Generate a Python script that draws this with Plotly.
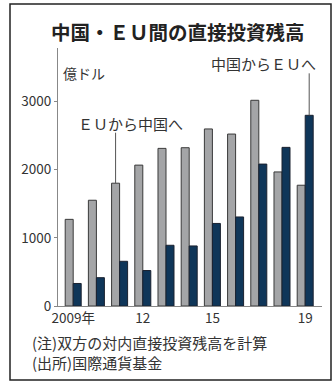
import plotly.graph_objects as go

years = list(range(2009, 2020))
eu_to_china = [1270, 1550, 1800, 2065, 2310, 2320, 2595, 2520, 3015, 1965, 1770]
china_to_eu = [330, 415, 655, 520, 890, 880, 1210, 1305, 2080, 2325, 2795]
tick_years = [2009, 2012, 2015, 2019]
tick_text = ["2009年", "12", "15", "19"]
ytick_vals = [0, 1000, 2000, 3000]

FONT = "Noto Sans CJK JP"
W, H = 336, 382
L, R, T, B = 58, 14, 48, 76
PW, PH = W - L - R, H - T - B
BARGAP = 0.31


def px_x(px):
    return (px - L) / PW


def px_y(py):
    return (H - B - py) / PH


fig = go.Figure()
fig.add_trace(go.Bar(
    x=years, y=eu_to_china, name="ＥＵから中国へ",
    marker=dict(color="#a4a5a7", line=dict(color="#3a3a3a", width=1)),
))
fig.add_trace(go.Bar(
    x=years, y=china_to_eu, name="中国からＥＵへ",
    marker=dict(color="#0f3659", line=dict(color="#1b2230", width=1)),
))

half = (1 - BARGAP) / 4
ymax = PH / 68.23 * 1000

shapes = [
    dict(type="rect", xref="paper", yref="paper",
         x0=px_x(10), x1=px_x(331), y0=px_y(380), y1=px_y(4),
         line=dict(color="#222222", width=1.5), fillcolor="rgba(0,0,0,0)"),
    dict(type="line", xref="x", yref="y",
         x0=2011 - half, x1=2011 - half, y0=eu_to_china[2], y1=2540,
         line=dict(color="#555555", width=1)),
    dict(type="line", xref="x", yref="y",
         x0=2019 + half, x1=2019 + half, y0=china_to_eu[10], y1=3410,
         line=dict(color="#555555", width=1)),
]

annotations = [
    dict(text="<b>中国・ＥＵ間の直接投資残高</b>", xref="paper", yref="paper",
         x=px_x(177.5), y=px_y(31), xanchor="center", yanchor="middle",
         showarrow=False, font=dict(family=FONT, size=19.5, color="#222222")),
    dict(text="億ドル", xref="paper", yref="paper",
         x=px_x(61), y=px_y(73), xanchor="left", yanchor="middle",
         showarrow=False, font=dict(family=FONT, size=14, color="#333333")),
    dict(text="ＥＵから中国へ", xref="paper", yref="paper",
         x=px_x(76), y=px_y(124), xanchor="left", yanchor="middle",
         showarrow=False, font=dict(family=FONT, size=15, color="#333333")),
    dict(text="中国からＥＵへ", xref="paper", yref="paper",
         x=px_x(318), y=px_y(63), xanchor="right", yanchor="middle",
         showarrow=False, font=dict(family=FONT, size=15, color="#333333")),
    dict(text="(注)双方の対内直接投資残高を計算", xref="paper", yref="paper",
         x=px_x(30), y=px_y(342.5), xanchor="left", yanchor="middle",
         showarrow=False, font=dict(family=FONT, size=15, color="#333333")),
    dict(text="(出所)国際通貨基金", xref="paper", yref="paper",
         x=px_x(30), y=px_y(362), xanchor="left", yanchor="middle",
         showarrow=False, font=dict(family=FONT, size=15, color="#333333")),
]

fig.update_layout(
    width=W, height=H,
    margin=dict(l=L, r=R, t=T, b=B, pad=0),
    paper_bgcolor="white", plot_bgcolor="white",
    barmode="group", bargap=BARGAP, bargroupgap=0,
    showlegend=False,
    shapes=shapes, annotations=annotations,
    font=dict(family=FONT, size=13, color="#333333"),
    xaxis=dict(
        range=[2008.345, 2008.345 + PW / 23.2],
        tickvals=tick_years, ticktext=tick_text,
        showgrid=False, zeroline=False, showline=True,
        linecolor="#888888", linewidth=1, ticks="",
        tickfont=dict(family=FONT, size=13.5, color="#333333"),
        fixedrange=True,
    ),
    yaxis=dict(
        range=[0, ymax], tickvals=ytick_vals,
        showgrid=False, zeroline=False, showline=True,
        linecolor="#888888", linewidth=1,
        ticks="outside", ticklen=3, tickcolor="#888888",
        tickfont=dict(family=FONT, size=13.5, color="#333333"),
        fixedrange=True,
    ),
)

fig.write_html("out.html")
